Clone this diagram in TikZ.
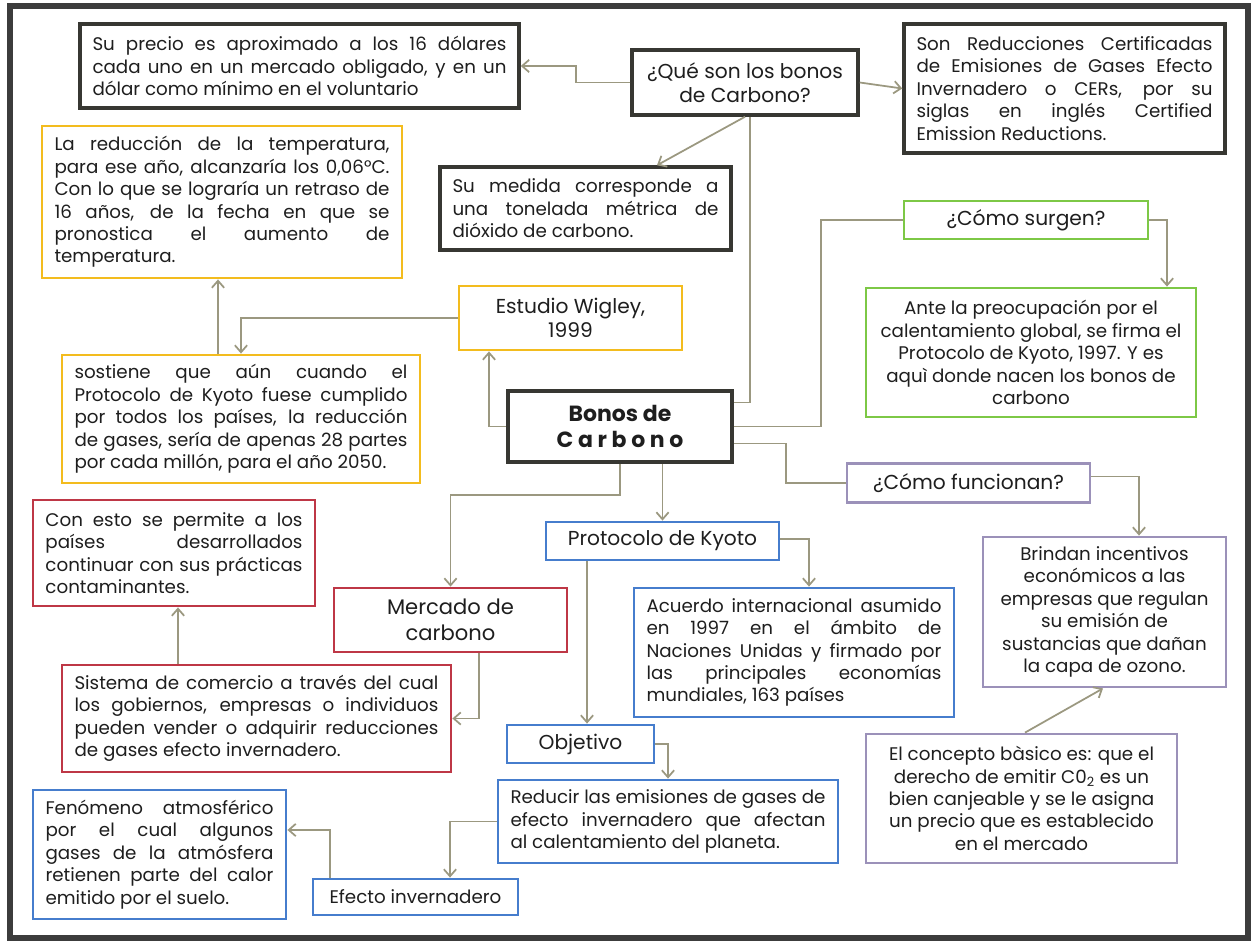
\documentclass[tikz,border=0pt]{standalone}
\usepackage{fontspec}
\setmainfont{Poppins}
\usetikzlibrary{arrows.meta,positioning}

\definecolor{frameclr}{RGB}{60,60,60}
\definecolor{kclr}{RGB}{55,55,50}
\definecolor{yclr}{RGB}{243,188,30}
\definecolor{gclr}{RGB}{125,200,70}
\definecolor{pclr}{RGB}{155,145,185}
\definecolor{bclr}{RGB}{70,125,205}
\definecolor{rclr}{RGB}{190,55,70}
\definecolor{lineclr}{RGB}{155,152,128}
\definecolor{txtclr}{RGB}{30,30,30}

\tolerance=10000
\hyphenpenalty=10000

\begin{document}
\begin{tikzpicture}[
    box/.style={draw, line width=1.6pt, fill=white, inner xsep=0.25cm, inner ysep=1pt, text=txtclr,
        font=\fontsize{10.4}{12.75}\selectfont},
    kbox/.style={box, draw=kclr, line width=2pt},
    ybox/.style={box, draw=yclr},
    gbox/.style={box, draw=gclr},
    pbox/.style={box, draw=pclr},
    bbox/.style={box, draw=bclr},
    rbox/.style={box, draw=rclr},
    head/.style={font=\fontsize{11.5}{14}\selectfont},
    just/.style={align=justify},
    cent/.style={align=center},
    ln/.style={draw=lineclr, line width=1pt},
    arr/.style={ln, -{Straight Barb[length=4pt,width=7pt]}}
]
\useasboundingbox (0,0) rectangle (25.2,-18.9);
\draw[frameclr, line width=0.12cm] (0.19,-0.12) rectangle (24.96,-18.76);

% top row
\node[kbox, just, text width=8.28cm, minimum width=8.78cm, minimum height=1.68cm] (price) at (5.99,-1.32)
    {Su precio es aproximado a los 16 dólares\linebreak cada uno en un mercado obligado, y en un\linebreak dólar como mínimo en el voluntario};
\node[kbox, head, cent, minimum width=4.52cm, minimum height=1.3cm] (que) at (14.9,-1.65)
    {¿Qué son los bonos\\de Carbono?};
\node[kbox, just, text width=5.92cm, minimum width=6.42cm, minimum height=2.58cm] (cers) at (21.29,-1.77)
    {Son Reducciones Certificadas\linebreak de Emisiones de Gases Efecto\linebreak Invernadero o CERs, por su\linebreak siglas en inglés Certified\linebreak Emission Reductions.};
\node[kbox, just, text width=5.32cm, minimum width=5.82cm, minimum height=1.66cm] (medida) at (11.71,-4.17)
    {Su medida corresponde a\linebreak una tonelada métrica de\linebreak dióxido de carbono.};

% Wigley
\node[ybox, just, text width=6.7cm, minimum width=7.2cm, minimum height=3.04cm] (temp) at (4.44,-4.04)
    {La reducción de la temperatura,\linebreak para ese año, alcanzaría los 0,06°C.\linebreak Con lo que se lograría un retraso de\linebreak 16 años, de la fecha en que se\linebreak pronostica el aumento de\linebreak temperatura.};
\node[ybox, head, cent, minimum width=4.46cm, minimum height=1.28cm] (wigley) at (11.41,-6.36)
    {Estudio Wigley,\\1999};
\node[ybox, just, text width=6.66cm, minimum width=7.16cm, minimum height=2.56cm] (sostiene) at (4.82,-8.38)
    {sostiene que aún cuando el\linebreak Protocolo de Kyoto fuese cumplido\linebreak por todos los países, la reducción\linebreak de gases, sería de apenas 28 partes\linebreak por cada millón, para el año 2050.};

% centre
\node[kbox, cent, line width=2.6pt, minimum width=4.48cm, minimum height=1.42cm,
    font=\fontsize{12.5}{14.5}\selectfont\bfseries] (bonos) at (12.4,-8.53)
    {Bonos de\\C a r b o n o};

% green / purple
\node[gbox, head, cent, minimum width=4.88cm, minimum height=0.76cm] (surgen) at (20.52,-4.4)
    {¿Cómo surgen?};
\node[gbox, cent, minimum width=6.6cm, minimum height=2.58cm] (ante) at (20.62,-7.05)
    {Ante la preocupación por el\\calentamiento global, se firma el\\Protocolo de Kyoto, 1997. Y es\\aquì donde nacen los bonos de\\carbono};
\node[pbox, head, cent, minimum width=4.86cm, minimum height=0.78cm] (funcionan) at (19.37,-9.66)
    {¿Cómo funcionan?};
\node[pbox, cent, minimum width=4.86cm, minimum height=3.0cm] (brindan) at (22.09,-12.24)
    {Brindan incentivos\\económicos a las\\empresas que regulan\\su emisión de\\sustancias que dañan\\la capa de ozono.};
\node[pbox, cent, minimum width=6.22cm, minimum height=2.58cm] (concepto) at (20.43,-15.97)
    {El concepto bàsico es: que el\\derecho de emitir C0\textsubscript{2} es un\\bien canjeable y se le asigna\\un precio que es establecido\\en el mercado};

% Kyoto
\node[bbox, head, cent, minimum width=4.66cm, minimum height=0.76cm] (kyoto) at (13.25,-10.82)
    {Protocolo de Kyoto};
\node[bbox, just, text width=5.9cm, minimum width=6.4cm, minimum height=2.58cm] (acuerdo) at (15.88,-13.05)
    {Acuerdo internacional asumido\linebreak en 1997 en el ámbito de\linebreak Naciones Unidas y firmado por\linebreak las principales economías\linebreak mundiales, 163 países};
\node[bbox, head, cent, minimum width=2.94cm, minimum height=0.76cm] (objetivo) at (11.61,-14.88)
    {Objetivo};
\node[bbox, just, text width=6.3cm, minimum width=6.8cm, minimum height=1.66cm] (reducir) at (13.36,-16.43)
    {Reducir las emisiones de gases de\linebreak efecto invernadero que afectan\linebreak al calentamiento del planeta.};
\node[bbox, cent, minimum width=4.1cm, minimum height=0.72cm] (efecto) at (8.31,-17.94)
    {Efecto invernadero};
\node[bbox, just, text width=4.56cm, minimum width=5.06cm, minimum height=2.58cm] (fenomeno) at (3.19,-17.09)
    {Fenómeno atmosférico\linebreak por el cual algunos\linebreak gases de la atmósfera\linebreak retienen parte del calor\linebreak emitido por el suelo.};

% mercado
\node[rbox, just, text width=5.14cm, minimum width=5.64cm, minimum height=2.12cm] (conesto) at (3.48,-11.06)
    {Con esto se permite a los\linebreak países desarrollados\linebreak continuar con sus prácticas\linebreak contaminantes.};
\node[rbox, cent, minimum width=4.66cm, minimum height=1.28cm,
    font=\fontsize{12}{14.5}\selectfont] (mercado) at (9.01,-12.4)
    {Mercado de\\carbono};
\node[rbox, just, text width=7.28cm, minimum width=7.78cm, minimum height=2.14cm] (sistema) at (5.13,-14.37)
    {Sistema de comercio a través del cual\linebreak los gobiernos, empresas o individuos\linebreak pueden vender o adquirir reducciones\linebreak de gases efecto invernadero.};

% connectors
\draw[arr] (que.west) -- ++(-1.08,0) |- (price.east);
\draw[arr] (que.east) -- (cers.west);
\draw[arr] (que.south) -- ([xshift=1.43cm]medida.north);
\draw[ln] ([xshift=0.1cm]que.south) |- ([yshift=0.48cm]bonos.east);
\draw[ln] (bonos.east) -- ++(1.74,0) |- (surgen.west);
\draw[arr] (surgen.east) -| ([xshift=2.72cm]ante.north);
\draw[ln] ([yshift=-0.34cm]bonos.east) -- ++(1.04,0) |- (funcionan.west);
\draw[arr] ([yshift=0.13cm]funcionan.east) -| ([xshift=0.69cm]brindan.north);
\draw[arr] ([xshift=0.07cm]concepto.north) -- ([xshift=-0.03cm]brindan.south);
\draw[arr] (bonos.south -| kyoto.north) -- (kyoto.north);
\draw[arr] ([yshift=0.04cm]kyoto.east) -| ([xshift=0.3cm]acuerdo.north);
\draw[arr] ([xshift=-1.51cm]kyoto.south) -- ([xshift=-1.51cm]kyoto.south |- objetivo.north);
\draw[arr] (objetivo.east) -| (reducir.north);
\draw[arr] (reducir.west) -| ([xshift=0.69cm]efecto.north);
\draw[arr] ([xshift=-1.71cm]efecto.north) |- ([yshift=0.49cm]fenomeno.east);
\draw[arr] (bonos.south) -- ++(0,-0.62) -| (mercado.north);
\draw[arr] ([xshift=0.57cm]mercado.south) |- (sistema.east);
\draw[arr] ([xshift=-1.57cm]sistema.north) -- ([xshift=-1.57cm]sistema.north |- conesto.south);
\draw[arr] (bonos.west) -| ([xshift=-1.63cm]wigley.south);
\draw[arr] (wigley.west) -| (sostiene.north);
\draw[arr] ([xshift=-0.46cm]sostiene.north) -- ([xshift=-0.46cm]sostiene.north |- temp.south);
\end{tikzpicture}
\end{document}
